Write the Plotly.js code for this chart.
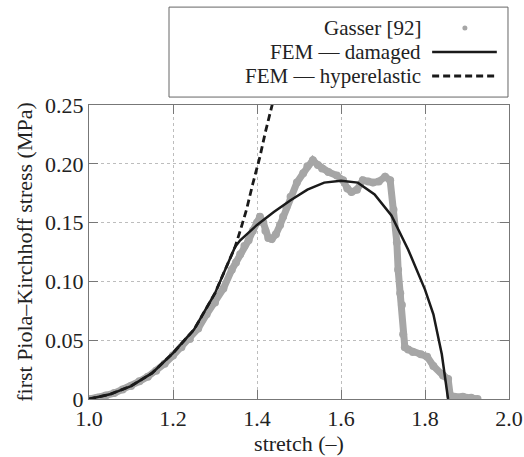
<!DOCTYPE html>
<html>
<head>
<meta charset="utf-8">
<script src="https://cdn.plot.ly/plotly-3.0.1.min.js"></script>
<style>html,body{margin:0;padding:0;background:#fff;}#chart{width:524px;height:457px;}</style>
</head>
<body>
<div id="chart"></div>
<script>
// Gasser [92] experimental data
const gasserX = [1.00,1.02,1.04,1.06,1.08,1.10,1.12,1.14,1.16,1.18,1.20,1.22,1.24,1.26,1.28,1.30,1.32,1.34,1.35,1.36,1.37,1.38,1.39,1.40,1.407,1.415,1.42,1.427,1.435,1.445,1.455,1.462,1.47,1.48,1.495,1.51,1.52,1.533,1.545,1.555,1.57,1.59,1.605,1.615,1.625,1.638,1.652,1.665,1.676,1.69,1.705,1.717,1.725,1.733,1.736,1.741,1.745,1.748,1.752,1.76,1.771,1.79,1.805,1.82,1.843,1.855,1.86,1.87,1.89,1.91,1.925];
const gasserY = [0.000,0.001,0.003,0.005,0.008,0.011,0.015,0.019,0.024,0.030,0.037,0.044,0.051,0.060,0.072,0.082,0.094,0.110,0.116,0.123,0.130,0.135,0.143,0.150,0.155,0.150,0.143,0.137,0.136,0.140,0.148,0.155,0.163,0.172,0.184,0.192,0.198,0.203,0.199,0.196,0.193,0.190,0.186,0.179,0.176,0.178,0.186,0.185,0.184,0.185,0.189,0.186,0.161,0.133,0.110,0.090,0.080,0.055,0.044,0.042,0.040,0.038,0.036,0.028,0.020,0.017,0.003,0.002,0.002,0.001,0.000];

// FEM — damaged
const damagedX = [1.00,1.05,1.10,1.15,1.20,1.25,1.30,1.348,1.36,1.40,1.44,1.48,1.52,1.56,1.60,1.64,1.68,1.72,1.76,1.78,1.80,1.82,1.84,1.855];
const damagedY = [0.000,0.004,0.011,0.022,0.039,0.059,0.090,0.1295,0.135,0.148,0.159,0.169,0.178,0.184,0.1855,0.184,0.174,0.156,0.127,0.110,0.093,0.072,0.038,0.000];

// FEM — hyperelastic
const hyperX = [1.00,1.05,1.10,1.15,1.20,1.25,1.30,1.348,1.36,1.375,1.39,1.407,1.42,1.437,1.45];
const hyperY = [0.000,0.004,0.011,0.022,0.039,0.059,0.090,0.1295,0.143,0.161,0.183,0.206,0.227,0.250,0.270];

const xTicks = [1.0,1.2,1.4,1.6,1.8,2.0];
const xTickText = ['1.0','1.2','1.4','1.6','1.8','2.0'];
const yTicks = [0,0.05,0.10,0.15,0.20,0.25];
const yTickText = ['0','0.05','0.10','0.15','0.20','0.25'];

const legendNames = ['Gasser [92]','FEM \u2014 damaged','FEM \u2014 hyperelastic'];

const FONT = 'Times New Roman, Tinos, Liberation Serif, DejaVu Serif, serif';
const GRAY = '#a6a6a6';

const traces = [
  {x: gasserX, y: gasserY, mode: 'lines+markers', name: legendNames[0],
   line: {color: GRAY, width: 7}, marker: {color: GRAY, size: 8}},
  {x: hyperX, y: hyperY, mode: 'lines', name: legendNames[2],
   line: {color: '#1a1a1a', width: 2.8, dash: '7px,4px'}},
  {x: damagedX, y: damagedY, mode: 'lines', name: legendNames[1],
   line: {color: '#1a1a1a', width: 2.5}}
];

// paper coordinates helpers (plot area 420 x 294 px)
const px = v => v / 420, py = v => v / 294;
const rowY = [1.262, 1.180, 1.0986];
const symX0 = 0.817, symX1 = 0.971;

const shapes = [
  {type: 'rect', xref: 'paper', yref: 'paper', x0: 0.1905, x1: 0.9976, y0: 1.027, y1: 1.333,
   line: {color: '#666', width: 1}, fillcolor: 'rgba(0,0,0,0)'},
  {type: 'circle', xref: 'paper', yref: 'paper',
   x0: 0.895 - px(2.5), x1: 0.895 + px(2.5), y0: rowY[0] - py(2.5), y1: rowY[0] + py(2.5),
   line: {width: 0}, fillcolor: GRAY},
  {type: 'line', xref: 'paper', yref: 'paper', x0: symX0, x1: symX1, y0: rowY[1], y1: rowY[1],
   line: {color: '#1a1a1a', width: 2.5}},
  {type: 'line', xref: 'paper', yref: 'paper', x0: symX0, x1: symX1, y0: rowY[2], y1: rowY[2],
   line: {color: '#1a1a1a', width: 2.8, dash: '7px,4px'}}
];

const annotations = legendNames.map((t, i) => ({
  text: t, xref: 'paper', yref: 'paper', x: 0.795, y: rowY[i],
  xanchor: 'right', yanchor: 'middle', showarrow: false,
  font: {family: FONT, size: 21, color: '#222'}
}));

const axisCommon = {
  showline: true, linecolor: '#777', linewidth: 1, mirror: 'ticks',
  ticks: 'inside', ticklen: 9, tickcolor: '#777',
  showgrid: true, gridcolor: '#bdbdbd', griddash: 'dot', gridwidth: 1,
  zeroline: false, tickfont: {family: FONT, size: 22, color: '#222'}
};

const layout = {
  width: 524, height: 457,
  margin: {l: 89, r: 15, t: 105, b: 58, pad: 0},
  paper_bgcolor: '#fff', plot_bgcolor: '#fff',
  showlegend: false,
  font: {family: FONT, color: '#222'},
  xaxis: Object.assign({}, axisCommon, {
    range: [1.0, 2.0], tickvals: xTicks, ticktext: xTickText,
    title: {text: 'stretch (\u2013)', font: {family: FONT, size: 22, color: '#222'}, standoff: 2}
  }),
  yaxis: Object.assign({}, axisCommon, {
    range: [0, 0.25], tickvals: yTicks, ticktext: yTickText,
    title: {text: 'first Piola\u2013Kirchhoff stress (MPa)', font: {family: FONT, size: 22, color: '#222'}, standoff: 6}
  }),
  shapes: shapes,
  annotations: annotations
};

Plotly.newPlot('chart', traces, layout, {displayModeBar: false, staticPlot: true});
</script>
</body>
</html>
